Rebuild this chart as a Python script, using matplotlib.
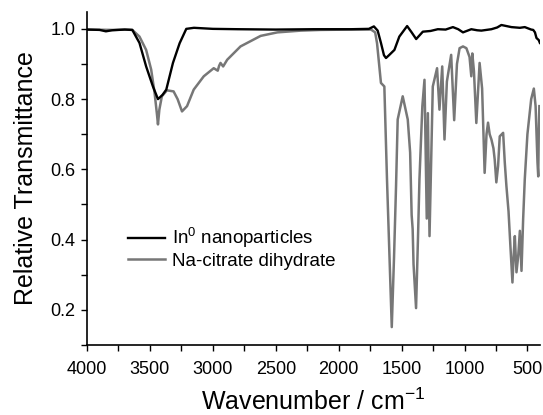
import matplotlib
matplotlib.use('Agg')
import matplotlib.pyplot as plt
from matplotlib.ticker import MultipleLocator

plt.rcParams['font.family'] = ['Liberation Sans', 'DejaVu Sans']
plt.rcParams['mathtext.fontset'] = 'custom'
plt.rcParams['mathtext.rm'] = 'Liberation Sans'
plt.rcParams['mathtext.it'] = 'Liberation Sans:italic'

# In0 nanoparticles spectrum (wavenumber, relative transmittance)
in_wn = [4000, 3900, 3850, 3800, 3700, 3640, 3583, 3530, 3476, 3436, 3400, 3370,
         3317, 3264, 3211, 3150, 3000, 2800, 2500, 2200, 1900, 1760, 1720, 1690,
         1664, 1640, 1624, 1600, 1557, 1518, 1456, 1420, 1384, 1331, 1270, 1212,
         1150, 1092, 1050, 1012, 946, 900, 866, 786, 740, 707, 627, 560, 521, 470,
         454, 440, 428, 410, 401]
in_t = [0.998, 0.997, 0.993, 0.996, 0.998, 0.997, 0.960, 0.893, 0.836, 0.800, 0.812, 0.827,
        0.903, 0.959, 1.000, 1.003, 1.000, 0.999, 0.998, 0.999, 0.999, 1.000, 1.007, 0.995,
        0.960, 0.925, 0.917, 0.925, 0.940, 0.978, 1.008, 0.990, 0.971, 0.992, 0.994, 0.999,
        0.998, 1.005, 0.999, 0.990, 0.999, 0.996, 0.995, 0.999, 1.004, 1.011, 1.005, 1.003, 1.005, 0.998,
        0.997, 0.990, 0.974, 0.968, 0.960]

# Na-citrate dihydrate spectrum
cit_wn = [4000, 3800, 3700, 3640, 3583, 3530, 3490, 3463, 3445, 3436, 3425, 3405,
          3365, 3312, 3280, 3245, 3205, 3152, 3072, 2993, 2961, 2950, 2939, 2918,
          2886, 2780, 2620, 2487, 2300, 2142, 1900, 1743, 1710, 1695, 1664, 1637,
          1616, 1578, 1560, 1544, 1531, 1491, 1451, 1432, 1420, 1412, 1405, 1385,
          1370, 1358, 1335, 1318, 1300, 1291, 1278, 1252, 1218, 1199, 1177, 1159,
          1140, 1106, 1082, 1060, 1039, 1012, 985, 960, 946, 938, 925, 906,
          880, 860, 840, 825, 813, 800, 786, 770, 760, 747, 733, 720,
          693, 680, 667, 650, 635, 619, 610, 600, 587, 573, 560, 547,
          534, 521, 500, 470, 449, 435, 420, 414, 410, 405]
cit_t = [0.998, 0.997, 0.998, 0.997, 0.978, 0.940, 0.884, 0.818, 0.760, 0.728, 0.770, 0.808,
         0.825, 0.822, 0.800, 0.765, 0.780, 0.827, 0.865, 0.888, 0.881, 0.895, 0.903, 0.893,
         0.912, 0.950, 0.980, 0.990, 0.995, 0.997, 0.998, 0.998, 0.990, 0.959, 0.846, 0.836,
         0.572, 0.151, 0.350, 0.553, 0.742, 0.808, 0.742, 0.648, 0.470, 0.430, 0.330, 0.205,
         0.400, 0.572, 0.780, 0.855, 0.460, 0.760, 0.410, 0.836, 0.888, 0.770, 0.893, 0.685,
         0.850, 0.926, 0.740, 0.900, 0.945, 0.950, 0.945, 0.920, 0.865, 0.930, 0.880, 0.732,
         0.903, 0.830, 0.590, 0.700, 0.733, 0.700, 0.685, 0.660, 0.628, 0.563, 0.610, 0.694,
         0.704, 0.620, 0.553, 0.480, 0.380, 0.278, 0.350, 0.410, 0.307, 0.354, 0.425, 0.311,
         0.458, 0.572, 0.700, 0.800, 0.830, 0.780, 0.620, 0.580, 0.700, 0.780]

labels = [r'In$^\mathregular{0}$ nanoparticles', 'Na-citrate dihydrate']

fig = plt.figure(figsize=(5.43, 4.15), dpi=100)
ax = fig.add_axes([87/543, 70/415, 453/543, 333/415])

ax.plot(in_wn, in_t, color='black', lw=1.7, label=labels[0], zorder=3)
ax.plot(cit_wn, cit_t, color='#777777', lw=1.8, label=labels[1], zorder=2)

ax.set_xlim(4000, 400)
ax.set_ylim(0.1, 1.048)
ax.xaxis.set_major_locator(MultipleLocator(500))
ax.xaxis.set_minor_locator(MultipleLocator(250))
ax.yaxis.set_major_locator(MultipleLocator(0.2))
ax.yaxis.set_minor_locator(MultipleLocator(0.1))
ax.set_yticks([0.2, 0.4, 0.6, 0.8, 1.0])
ax.set_yticklabels(['0.2', '0.4', '0.6', '0.8', '1.0'])
for s in ['top', 'right']:
    ax.spines[s].set_visible(False)
for s in ['left', 'bottom']:
    ax.spines[s].set_linewidth(1.2)
ax.tick_params(which='both', direction='out', width=1.0, labelsize=13)
ax.tick_params(axis='x', pad=7)
ax.tick_params(axis='y', pad=4)
ax.tick_params(which='major', length=4.5)
ax.tick_params(which='minor', length=4.5)

ax.set_xlabel(r'Wavenumber / cm$^\mathregular{-1}$', fontsize=18, labelpad=8)
ax.set_ylabel('Relative Transmittance', fontsize=18, labelpad=9)

leg = ax.legend(loc='upper left', bbox_to_anchor=((128-87)/453, (345-226)/333),
                frameon=False, fontsize=13.5, handlelength=1.95, handletextpad=0.42,
                labelspacing=0.15, borderpad=0, borderaxespad=0)

fig.savefig('out.png', dpi=100)
